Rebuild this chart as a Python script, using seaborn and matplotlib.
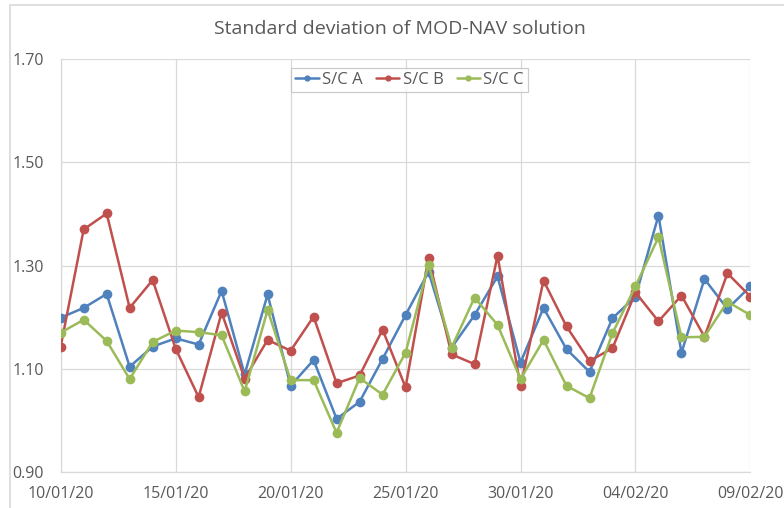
import matplotlib
matplotlib.use("Agg")
import matplotlib.pyplot as plt
import matplotlib.dates as mdates
from matplotlib.lines import Line2D
import numpy as np
import pandas as pd
import seaborn as sns

# ---------------------------------------------------------------------------
# Data
# ---------------------------------------------------------------------------
dates = pd.date_range("2020-01-10", "2020-02-09", freq="D")

sc_a = [1.199, 1.218, 1.245, 1.104, 1.143, 1.159, 1.147, 1.251, 1.089, 1.244,
        1.067, 1.117, 1.003, 1.036, 1.119, 1.204, 1.288, 1.141, 1.204, 1.279,
        1.112, 1.218, 1.138, 1.094, 1.198, 1.240, 1.397, 1.131, 1.274, 1.216,
        1.260]
sc_b = [1.143, 1.370, 1.401, 1.218, 1.272, 1.139, 1.045, 1.209, 1.081, 1.156,
        1.135, 1.201, 1.072, 1.087, 1.176, 1.064, 1.315, 1.128, 1.109, 1.319,
        1.066, 1.271, 1.182, 1.115, 1.140, 1.248, 1.192, 1.242, 1.162, 1.285,
        1.240]
sc_c = [1.170, 1.195, 1.154, 1.080, 1.152, 1.174, 1.171, 1.165, 1.056, 1.214,
        1.078, 1.078, 0.976, 1.082, 1.050, 1.131, 1.302, 1.141, 1.238, 1.185,
        1.080, 1.156, 1.067, 1.043, 1.169, 1.260, 1.355, 1.161, 1.162, 1.230,
        1.204]

series_names = ["S/C A", "S/C B", "S/C C"]
colors = ["#4F81BD", "#C0504D", "#9BBB59"]
y_ticks = [0.90, 1.10, 1.30, 1.50, 1.70]

df = pd.DataFrame({"date": dates, "S/C A": sc_a, "S/C B": sc_b, "S/C C": sc_c})
long = df.melt(id_vars="date", var_name="series", value_name="std")

# ---------------------------------------------------------------------------
# Plot
# ---------------------------------------------------------------------------
sns.set_theme(style="white")
plt.rcParams["font.family"] = ["Open Sans", "DejaVu Sans"]

fig = plt.figure(figsize=(7.84, 5.08), dpi=100)
ax = fig.add_axes([0.0774, 0.0709, 0.8798, 0.8126])

sns.lineplot(data=long, x="date", y="std", hue="series", hue_order=series_names,
             palette=colors, marker="o", markersize=7, markeredgewidth=0,
             linewidth=1.8, ax=ax, legend=False, zorder=3)

grid_c = "#d9d9d9"
ax.set_ylim(0.90, 1.70)
ax.set_yticks(y_ticks)
ax.yaxis.set_major_formatter(matplotlib.ticker.FormatStrFormatter("%.2f"))
ax.set_xlim(dates[0], dates[-1])
ax.set_xticks(dates[::5])
ax.xaxis.set_major_formatter(mdates.DateFormatter("%d/%m/%y"))
ax.grid(True, color=grid_c, linewidth=0.9)
ax.set_axisbelow(True)
for side in ["top", "right"]:
    ax.spines[side].set_visible(False)
for side in ["left", "bottom"]:
    ax.spines[side].set_color(grid_c)
    ax.spines[side].set_linewidth(0.9)
ax.tick_params(axis="both", length=0, labelsize=11.5, labelcolor="#595959")
ax.tick_params(axis="x", pad=10)
ax.tick_params(axis="y", pad=12)
ax.set_xlabel("")
ax.set_ylabel("")

fig.text(0.510, 0.942, "Standard deviation of MOD-NAV solution", ha="center",
         va="center", fontsize=14, color="#595959")

handles = [Line2D([0], [0], color=c, linewidth=1.8, marker="o", markersize=4.5,
                  markeredgewidth=0) for c in colors]
leg = ax.legend(handles, series_names, loc="center", bbox_to_anchor=(0.506, 0.950),
                ncol=3, fontsize=12, frameon=True, fancybox=False,
                handlelength=1.4, handletextpad=0.2, columnspacing=0.8,
                borderpad=0.25, borderaxespad=0, labelcolor="#595959")
leg.get_frame().set_edgecolor("#bfbfbf")
leg.get_frame().set_linewidth(0.9)

# outer chart border (top and left edges visible)
fig.add_artist(Line2D([10 / 784, 1.0], [1 - 5 / 508, 1 - 5 / 508],
                      transform=fig.transFigure, color=grid_c, linewidth=1.2))
fig.add_artist(Line2D([10 / 784, 10 / 784], [0.0, 1 - 5 / 508],
                      transform=fig.transFigure, color=grid_c, linewidth=1.2))

fig.savefig("out.png", dpi=100)
